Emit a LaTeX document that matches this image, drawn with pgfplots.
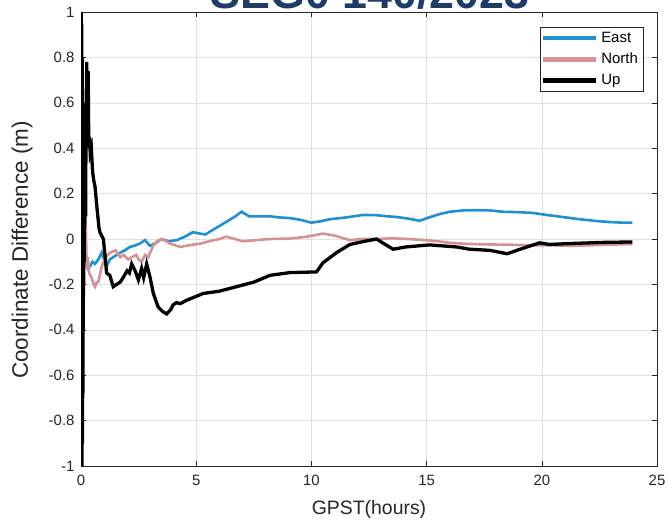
\documentclass[border=0pt]{standalone}
\usepackage{pgfplots}
\pgfplotsset{compat=1.18}
\usepackage{fontspec}
\setmainfont{Liberation Sans}
\definecolor{eastc}{RGB}{30,144,214}
\definecolor{northc}{RGB}{214,146,146}
\definecolor{titlec}{RGB}{28,61,104}
\definecolor{axc}{RGB}{38,38,38}
\definecolor{gridc}{RGB}{225,225,225}
\begin{document}
\begin{tikzpicture}[x=1bp,y=1bp]
\useasboundingbox (0,0) rectangle (666,-520);
\begin{scope}
\clip (0,0) rectangle (666,-520);
\node[anchor=base, font=\fontsize{45}{50}\selectfont\bfseries, text=titlec, inner sep=0pt] at (370,-8.5) {SEG0 140/2023};
\end{scope}
\begin{axis}[
  at={(81bp,-466bp)}, anchor=south west,
  scale only axis, width=576bp, height=454bp,
  xmin=0, xmax=25, ymin=-1, ymax=1,
  xtick={0,5,10,15,20,25},
  ytick={-1,-0.8,-0.6,-0.4,-0.2,0,0.2,0.4,0.6,0.8,1},
  /pgf/number format/assume math mode=true,
  /pgf/number format/fixed, /pgf/number format/precision=1,
  ticklabel style={font=\fontsize{15}{17}\selectfont, text=axc},
  xticklabel style={yshift=-6bp},
  yticklabel style={xshift=-3bp},
  tick align=inside, tick pos=both,
  major tick length=5bp,
  every tick/.style={axc, line width=0.6bp},
  axis line style={axc, line width=0.7bp},
  grid=major,
  major grid style={gridc, line width=0.6bp},
  legend style={at={(1,1)}, anchor=north east, xshift=-14bp, yshift=-15bp,
    font=\fontsize{15}{17}\selectfont, draw=axc,
    inner xsep=3bp, inner ysep=3bp, row sep=5bp, cells={anchor=west}},
]
\addlegendimage{legend image code/.code={\fill[eastc] (0bp,-1.6bp) rectangle (52bp,1.6bp);}}
\addlegendentry{\hspace{4bp}East}
\addlegendimage{legend image code/.code={\fill[northc] (0bp,-1.6bp) rectangle (52bp,1.6bp);}}
\addlegendentry{\hspace{4bp}North}
\addlegendimage{legend image code/.code={\fill[black] (0bp,-1.6bp) rectangle (52bp,1.6bp);}}
\addlegendentry{\hspace{4bp}Up}
\addplot[eastc, line width=2.6bp, forget plot] coordinates {
(0.00,0.30)(0.02,0.85)(0.05,0.45)(0.08,0.10)(0.12,0.30)(0.15,-0.05)(0.2,-0.10)(0.3,-0.13)
(0.39,-0.12)(0.5,-0.10)(0.6,-0.11)(0.75,-0.09)(0.9,-0.06)(1.0,-0.09)(1.11,-0.12)(1.25,-0.09)
(1.4,-0.08)(1.55,-0.07)(1.7,-0.06)(1.9,-0.05)(2.12,-0.035)(2.3,-0.03)(2.56,-0.02)(2.7,-0.01)
(2.78,-0.005)(2.9,-0.02)(3.0,-0.03)(3.2,-0.02)(3.5,0.0)(3.8,-0.01)(4.15,-0.005)(4.5,0.01)
(4.86,0.03)(5.1,0.025)(5.4,0.02)(5.8,0.045)(6.3,0.075)(6.7,0.1)(6.97,0.12)(7.3,0.1)
(7.8,0.1)(8.2,0.1)(8.6,0.095)(9.07,0.092)(9.5,0.085)(10.0,0.072)(10.4,0.078)(10.8,0.087)
(11.5,0.095)(12.24,0.106)(12.8,0.105)(13.3,0.1)(13.69,0.097)(14.2,0.09)(14.7,0.08)(15.1,0.095)
(15.57,0.11)(16.0,0.12)(16.58,0.126)(17.2,0.127)(17.74,0.126)(18.3,0.12)(19.0,0.118)(19.6,0.115)
(20.2,0.106)(20.9,0.097)(21.64,0.087)(22.3,0.08)(22.9,0.075)(23.5,0.072)(23.93,0.072)
};
\addplot[northc, line width=2.6bp, forget plot] coordinates {
(0.00,0.0)(0.05,0.1)(0.1,0.25)(0.17,0.35)(0.2,0.1)(0.25,-0.13)(0.3,-0.08)(0.35,-0.15)
(0.46,-0.17)(0.55,-0.2)(0.61,-0.21)(0.68,-0.19)(0.75,-0.19)(0.9,-0.12)(1.07,-0.08)(1.26,-0.06)
(1.5,-0.05)(1.7,-0.08)(1.85,-0.07)(2.05,-0.09)(2.2,-0.08)(2.4,-0.07)(2.5,-0.09)(2.63,-0.10)
(2.78,-0.07)(2.92,-0.08)(3.0,-0.06)(3.14,-0.03)(3.3,-0.01)(3.5,0.0)(3.7,-0.01)(3.87,-0.02)
(4.3,-0.035)(4.86,-0.025)(5.2,-0.02)(5.56,-0.01)(6.0,0.0)(6.3,0.01)(6.7,0.0)(7.0,-0.01)
(7.6,-0.005)(8.2,0.0)(9.07,0.002)(9.8,0.01)(10.5,0.024)(11.0,0.015)(11.67,-0.005)(12.2,0.0)
(12.83,0.0)(13.5,0.003)(14.2,0.0)(14.96,-0.005)(15.5,-0.01)(16.0,-0.017)(16.87,-0.022)(17.74,-0.024)
(18.5,-0.025)(19.7,-0.028)(20.5,-0.028)(21.2,-0.03)(22.0,-0.028)(23.0,-0.025)(23.93,-0.022)
};
\addplot[black, line width=3.3bp, forget plot] coordinates {
(0.00,-1.0)(0.01,1.0)(0.02,-1.0)(0.03,0.95)(0.04,-1.0)(0.05,0.8)(0.06,-0.9)(0.07,0.6)
(0.08,-0.7)(0.09,0.45)(0.10,-0.4)(0.11,0.35)(0.12,-0.2)(0.13,0.32)(0.14,-0.1)(0.15,0.30)
(0.16,0.05)(0.18,0.30)(0.20,0.10)(0.22,0.55)(0.25,0.78)(0.28,0.50)(0.31,0.74)(0.34,0.40)
(0.37,0.45)(0.40,0.38)(0.45,0.40)(0.5,0.3)(0.55,0.26)(0.61,0.23)(0.7,0.13)(0.78,0.05)
(0.82,0.03)(0.97,0.0)(1.05,-0.08)(1.11,-0.15)(1.25,-0.16)(1.4,-0.21)(1.55,-0.2)(1.7,-0.19)
(1.83,-0.17)(2.0,-0.14)(2.1,-0.15)(2.2,-0.11)(2.35,-0.14)(2.49,-0.18)(2.63,-0.13)(2.72,-0.17)
(2.85,-0.11)(3.0,-0.17)(3.14,-0.24)(3.35,-0.30)(3.55,-0.32)(3.72,-0.33)(3.9,-0.31)(4.0,-0.29)
(4.15,-0.28)(4.3,-0.285)(4.58,-0.27)(5.3,-0.24)(6.0,-0.23)(6.75,-0.21)(7.5,-0.19)(8.2,-0.16)
(9.07,-0.148)(10.22,-0.145)(10.5,-0.105)(11.09,-0.06)(11.67,-0.024)(12.17,-0.013)(12.83,0.0)(13.2,-0.024)
(13.55,-0.045)(14.1,-0.035)(15.13,-0.026)(16.3,-0.035)(16.87,-0.045)(17.74,-0.05)(18.0,-0.055)(18.5,-0.065)
(19.0,-0.047)(19.9,-0.017)(20.35,-0.024)(21.2,-0.02)(22.65,-0.015)(23.93,-0.013)
};
\end{axis}
\node[font=\fontsize{19.5}{22}\selectfont, text=axc] at (369,-509) {GPST(hours)};
\node[font=\fontsize{22.5}{25}\selectfont, text=axc, rotate=90] at (22,-250) {Coordinate Difference (m)};
\end{tikzpicture}
\end{document}
